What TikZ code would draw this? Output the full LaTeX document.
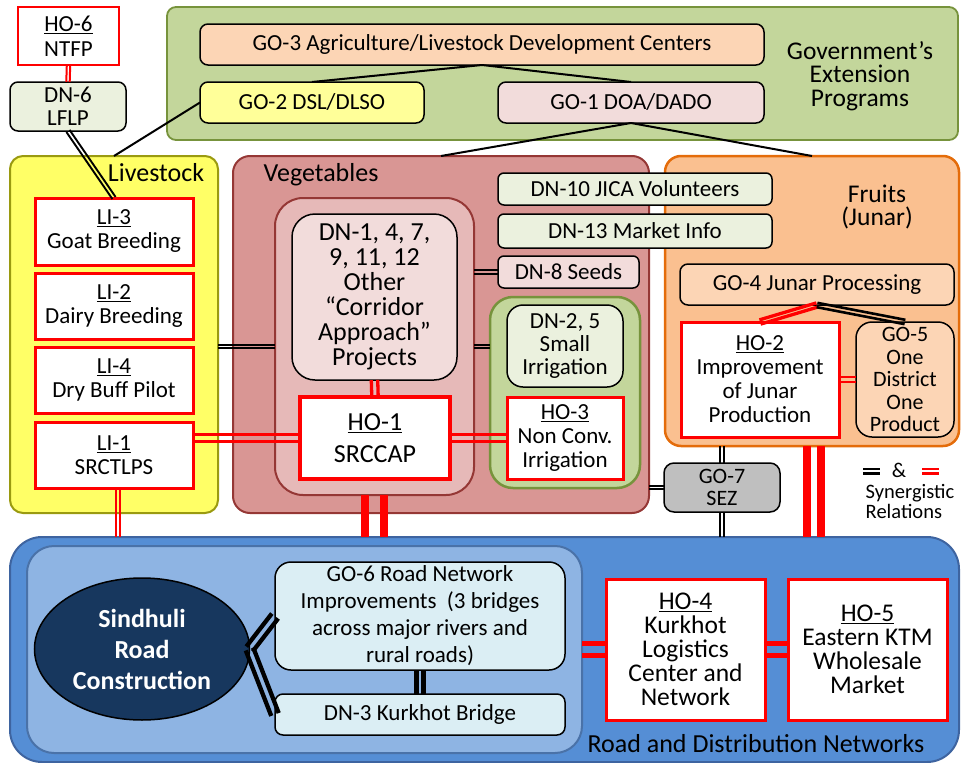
\documentclass[tikz,border=0pt]{standalone}
\usepackage{fontspec}
\setmainfont{Carlito}
\usetikzlibrary{calc,shapes.geometric}

\definecolor{govfill}{HTML}{C3D69B}
\definecolor{govline}{HTML}{77933C}
\definecolor{peach}{HTML}{FCD5B5}
\definecolor{paleyellow}{HTML}{FFFF99}
\definecolor{palepink}{HTML}{F2DCDB}
\definecolor{palegreen}{HTML}{EBF1DE}
\definecolor{livefill}{HTML}{FFFF66}
\definecolor{liveline}{HTML}{9A9A10}
\definecolor{vegfill}{HTML}{D99694}
\definecolor{vegline}{HTML}{953735}
\definecolor{veginfill}{HTML}{E6B9B8}
\definecolor{fruitfill}{HTML}{FAC090}
\definecolor{fruitline}{HTML}{E46C0A}
\definecolor{sezfill}{HTML}{BFBFBF}
\definecolor{roadfill}{HTML}{558ED5}
\definecolor{roadline}{HTML}{3E64A0}
\definecolor{roadinfill}{HTML}{8EB4E3}
\definecolor{roadinline}{HTML}{4A72A8}
\definecolor{navy}{HTML}{17375E}
\definecolor{iceblue}{HTML}{DBEEF4}
\definecolor{linkred}{HTML}{FF0000}

\newcommand\txt{\fontsize{23}{24.5}\selectfont}
\newcommand\hdr{\fontsize{26}{23.5}\selectfont}

% two parallel strokes between two points, #4 to each side of the centre line
\newcommand\twin[4][]{%
  \draw[#1] ($(#2)!#4!90:(#3)$) -- ($(#3)!#4!-90:(#2)$);
  \draw[#1] ($(#2)!#4!-90:(#3)$) -- ($(#3)!#4!90:(#2)$);}

\tikzset{
  base/.style={inner sep=0pt, outer sep=0pt, align=center, font=\txt},
  sz/.style 2 args={minimum width=#1pt, minimum height=#2pt},
  hobox/.style={base, rectangle, draw=linkred, line width=3pt, fill=white},
  softbox/.style={base, draw=black, line width=1.5pt, rounded corners=8pt},
  container/.style={inner sep=0pt, outer sep=0pt, rounded corners=13pt},
  caption/.style={inner sep=0pt, outer sep=0pt, align=center, font=\hdr},
  plain/.style={black, line width=2pt},
  blkthin/.style={black, line width=1.9pt},
  blkmid/.style={black, line width=2.6pt},
  blkheavy/.style={black, line width=4.3pt},
  redthin/.style={linkred, line width=2pt},
  redmid/.style={linkred, line width=3.3pt},
  redwide/.style={linkred, line width=5.5pt},
  redheavy/.style={linkred, line width=8pt},
}

\begin{document}
\begin{tikzpicture}[x=1pt,y=-1pt]
\useasboundingbox (0,0) rectangle (962,763);

% ---- group containers ----
\node[container, fill=govfill, draw=govline, line width=1.8pt, rounded corners=9pt, sz={791}{133}] (gov) at (562.5,73.5) {};
\node[container, fill=livefill, draw=liveline, line width=2pt, sz={208}{357}] (live) at (114,334.5) {};
\node[container, fill=vegfill, draw=vegline, line width=2pt, rounded corners=17pt, sz={416}{357}] (veg) at (441,334.5) {};
\node[container, fill=veginfill, draw=vegline, line width=2pt, rounded corners=28pt, sz={199}{297}] (vegin) at (374.5,346.5) {};
\node[container, fill=govfill, draw=govline, line width=2.5pt, rounded corners=23pt, sz={150}{191}] (irrig) at (565,392.5) {};
\node[container, fill=fruitfill, draw=fruitline, line width=2.5pt, rounded corners=16pt, sz={294}{290}] (fruits) at (812,301) {};
\node[container, fill=roadfill, draw=roadline, line width=2pt, rounded corners=32pt, sz={949}{225}] (road) at (484.5,649.5) {};
\node[container, fill=roadinfill, draw=roadinline, line width=2pt, rounded corners=27pt, sz={555}{207}] (roadin) at (304.5,649.5) {};

% ---- group captions ----
\node[caption, anchor=base] (livecap) at (156,181) {Livestock};
\node[caption, anchor=base] (vegcap) at (321,181) {Vegetables};
\node[caption, font=\fontsize{25.5}{23}\selectfont] (fruitcap) at (877,207) {Fruits\\(Junar)};
\node[caption, font=\fontsize{25.5}{23.5}\selectfont] (govcap) at (860,76) {Government’s\\Extension\\Programs};
\node[caption, anchor=base] (roadcap) at (756,752) {Road and Distribution Networks};

% ---- top row ----
\node[hobox, line width=2.5pt, sz={101}{58}, font=\fontsize{23}{25}\selectfont] (ho6) at (68.5,36) {\underline{HO-6}\\NTFP};
\node[softbox, fill=palegreen, sz={116}{49}, font=\fontsize{23}{23}\selectfont] (dn6) at (68,106.5) {DN-6\\LFLP};
\node[softbox, fill=peach, sz={564}{41}] (go3) at (482,44.5) {GO-3 Agriculture/Livestock Development Centers};
\node[softbox, fill=paleyellow, sz={224}{41}] (go2) at (312,102.5) {GO-2 DSL/DLSO};
\node[softbox, fill=palepink, sz={266}{41}] (go1) at (631,102.5) {GO-1 DOA/DADO};

% ---- livestock ----
\node[hobox, sz={158}{67}, font=\fontsize{23}{24}\selectfont] (li3) at (114,231.5) {\underline{LI-3}\\Goat Breeding};
\node[hobox, sz={158}{66}, font=\fontsize{23}{24}\selectfont] (li2) at (114,306) {\underline{LI-2}\\Dairy Breeding};
\node[hobox, sz={158}{66}, font=\fontsize{23}{24}\selectfont] (li4) at (114,380) {\underline{LI-4}\\Dry Buff Pilot};
\node[hobox, sz={158}{66}, font=\fontsize{23}{24}\selectfont] (li1) at (114,455) {\underline{LI-1}\\SRCTLPS};

% ---- vegetables ----
\node[softbox, fill=palepink, rounded corners=23pt, sz={165}{166}, font=\fontsize{26}{25}\selectfont] (dn1) at (374.5,297) {DN-1, 4, 7,\\9, 11, 12\\Other\\“Corridor\\Approach”\\Projects};
\node[hobox, line width=4pt, sz={150}{82}, font=\fontsize{26}{31.5}\selectfont] (ho1) at (375,438) {\underline{HO-1}\\SRCCAP};
\node[softbox, fill=palegreen, rounded corners=6pt, sz={274}{32}] (dn10) at (635,189) {DN-10 JICA Volunteers};
\node[softbox, fill=palegreen, rounded corners=6pt, sz={274}{34}] (dn13) at (635,231) {DN-13 Market Info};
\node[softbox, fill=palepink, rounded corners=6pt, sz={141}{32}] (dn8) at (568.5,272) {DN-8 Seeds};
\node[softbox, fill=palegreen, rounded corners=16pt, sz={116}{82}, font=\fontsize{23}{23}\selectfont] (dn25) at (565,346) {DN-2, 5\\Small\\Irrigation};
\node[hobox, sz={116}{82}, font=\fontsize{23}{24}\selectfont] (ho3) at (565,438) {\underline{HO-3}\\Non Conv.\\Irrigation};

% ---- fruits ----
\node[softbox, fill=peach, sz={274}{41}] (go4) at (817,284.5) {GO-4 Junar Processing};
\node[hobox, sz={158}{115}, font=\fontsize{23}{24}\selectfont] (ho2) at (760,379.5) {\underline{HO-2}\\Improvement\\of Junar\\Production};
\node[softbox, fill=peach, rounded corners=16pt, sz={98}{115}, font=\fontsize{22}{22.5}\selectfont] (go5) at (905,379.5) {GO-5\\One\\District\\One\\Product};
\node[softbox, fill=sezfill, rounded corners=10pt, sz={116}{49}, font=\fontsize{22}{22.5}\selectfont] (go7) at (722,487.5) {GO-7\\SEZ};

% ---- road and distribution ----
\node[ellipse, draw=black, line width=1.5pt, fill=navy, text=white, inner sep=0pt, outer sep=0pt, minimum width=215pt, minimum height=142pt, align=center, font=\bfseries\fontsize{26}{31}\selectfont] (sr) at (142,649) {Sindhuli\\Road\\Construction};
\node[softbox, fill=iceblue, rounded corners=16pt, sz={290}{108}, font=\fontsize{23}{27}\selectfont] (go6) at (420,616) {GO-6 Road Network\\Improvements~ (3 bridges\\across major rivers and\\rural roads)};
\node[softbox, fill=iceblue, sz={290}{41}] (dn3) at (420,714.5) {DN-3 Kurkhot Bridge};
\node[hobox, sz={159}{141}, font=\fontsize{25.5}{24}\selectfont] (ho4) at (685.5,649.5) {\underline{HO-4}\\Kurkhot\\Logistics\\Center and\\Network};
\node[hobox, sz={159}{141}, font=\fontsize{25.5}{24}\selectfont] (ho5) at (867.5,649.5) {\underline{HO-5}\\Eastern KTM\\Wholesale\\Market};

% ---- single links ----
\draw[plain] (go3.south) -- (go2.north);
\draw[plain] (go3.south) -- (go1.north);
\draw[plain] (go2.west) -- (live.north);
\draw[plain] (go1.south) -- (veg.north);
\draw[plain] (go1.south) -- (fruits.north);

% ---- paired links ----
\twin[redthin]{ho6.south}{dn6.north}{1.7pt}
\twin[blkthin]{dn6.south}{li3.north}{1.9pt}
\twin[blkthin]{live.east |- vegin.west}{vegin.west}{1.8pt}
\twin[blkthin]{vegin.east |- dn8.west}{dn8.west}{1.8pt}
\twin[blkthin]{vegin.east}{vegin.east -| irrig.west}{1.8pt}
\twin[redmid]{dn1.south}{ho1.north}{3.2pt}
\twin[redmid]{li1.east |- ho1.west}{ho1.west}{3.5pt}
\twin[redmid]{ho1.east}{ho3.west}{3.5pt}
\twin[redthin]{[xshift=4pt]li1.south}{[xshift=4pt]li1.south |- road.north}{1.9pt}
\twin[redheavy]{vegin.south}{vegin.south |- road.north}{9.2pt}
\twin[redheavy]{[xshift=2pt]fruits.south}{[xshift=2pt]fruits.south |- road.north}{7.3pt}
\twin[blkthin]{fruits.south -| go7.north}{go7.north}{1.8pt}
\twin[blkthin]{go7.south}{go7.south |- road.north}{1.8pt}
\twin[blkthin]{veg.east |- go7.west}{go7.west}{1.8pt}
\twin[redmid]{go4.south}{ho2.north}{2.2pt}
\twin[blkmid]{go4.south}{go5.north}{2.2pt}
\twin[redthin]{ho2.east}{go5.west}{2.1pt}
\twin[blkheavy]{go6.south}{dn3.north}{3.5pt}
\twin[blkheavy]{sr.east}{go6.west}{4pt}
\twin[blkheavy]{sr.east}{dn3.west}{4pt}
\twin[redwide]{roadin.east}{ho4.west}{6pt}
\twin[redwide]{ho4.east}{ho5.west}{6pt}

% ---- key ----
\draw[black, line width=2.3pt] (863,469) -- (880,469) (863,473.5) -- (880,473.5);
\node[inner sep=0pt, font=\fontsize{21}{21}\selectfont] (amp) at (899,470.5) {\&};
\draw[linkred, line width=2.3pt] (922,469) -- (939,469) (922,473.5) -- (939,473.5);
\node[inner sep=0pt, align=left, font=\fontsize{20.5}{20}\selectfont] (syn) at (910,501) {Synergistic\\Relations};
\end{tikzpicture}
\end{document}
